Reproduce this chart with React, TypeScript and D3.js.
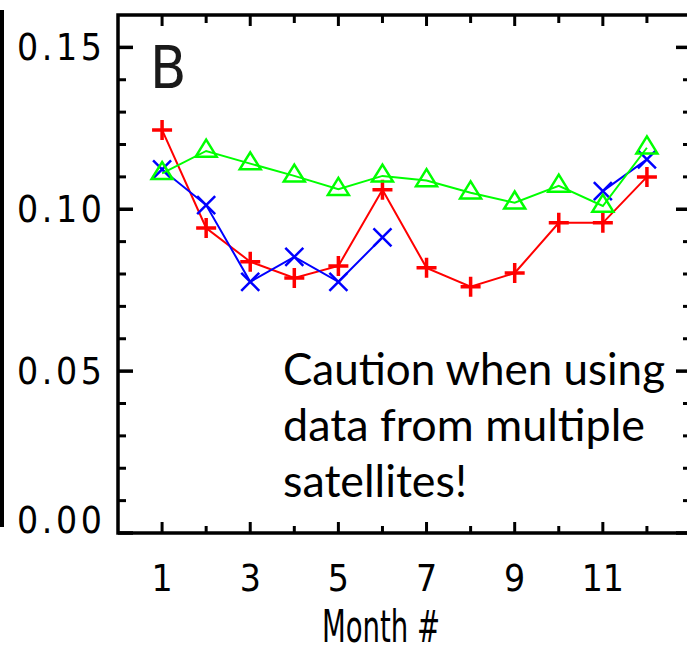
import { useEffect, useRef } from "react"
import * as d3 from "d3"

// monthly values
const months = [1, 2, 3, 4, 5, 6, 7, 8, 9, 10, 11, 12]
const redValues = [0.1245, 0.0942, 0.0838, 0.0788, 0.0825, 0.106, 0.0819, 0.0761, 0.0803, 0.0958, 0.0958, 0.110]
const greenValues = [0.1111, 0.118, 0.1141, 0.1103, 0.1062, 0.1103, 0.1089, 0.1051, 0.102, 0.1072, 0.101, 0.119]
// blue has no data for months 7-10
const blueValues = [0.1123, 0.1013, 0.0776, 0.0853, 0.0776, 0.0913, null, null, null, null, 0.1056, 0.1154]

const yMajorTicks = [0, 0.05, 0.1, 0.15]
const yTickLabels = ["0.00", "0.05", "0.10", "0.15"]
const yMinorTicks = [0.01, 0.02, 0.03, 0.04, 0.06, 0.07, 0.08, 0.09, 0.11, 0.12, 0.13, 0.14]
const xMajorTicks = [1, 3, 5, 7, 9, 11]
const xMinorTicks = [2, 4, 6, 8, 10, 12]

const noteLines = ["Caution when using", "data from multiple", "satellites!"]
const noteWidths = [382, 362, 184]

const hershey = "'DejaVu Sans Condensed', 'DejaVu Sans', sans-serif"

export default function App() {
  const svgRef = useRef<SVGSVGElement>(null)

  useEffect(() => {
    if (!svgRef.current) return
    const svg = d3.select(svgRef.current)
    svg.selectAll("*").remove()

    const left = 118
    const right = 691
    const top = 15
    const bottom = 533

    const x = d3.scaleLinear().domain([0, 13]).range([left, right])
    const y = d3.scaleLinear().domain([0, 0.16]).range([bottom, top])

    // edge of the neighbouring panel
    svg.append("line").attr("x1", 2).attr("x2", 2).attr("y1", 10).attr("y2", 527)
      .attr("stroke", "black").attr("stroke-width", 4)

    // frame
    svg.append("rect")
      .attr("x", left).attr("y", top)
      .attr("width", right - left).attr("height", bottom - top)
      .attr("fill", "none").attr("stroke", "black").attr("stroke-width", 3.5)

    const ticks = svg.append("g").attr("stroke", "black")

    // y ticks, inward on both sides
    yMajorTicks.forEach((v) => {
      ticks.append("line").attr("x1", left).attr("x2", left + 15).attr("y1", y(v)).attr("y2", y(v)).attr("stroke-width", 3.5)
      ticks.append("line").attr("x1", right).attr("x2", right - 15).attr("y1", y(v)).attr("y2", y(v)).attr("stroke-width", 3.5)
    })
    yMinorTicks.forEach((v) => {
      ticks.append("line").attr("x1", left).attr("x2", left + 8).attr("y1", y(v)).attr("y2", y(v)).attr("stroke-width", 3)
      ticks.append("line").attr("x1", right).attr("x2", right - 8).attr("y1", y(v)).attr("y2", y(v)).attr("stroke-width", 3)
    })

    // x ticks, inward on top and bottom
    xMajorTicks.forEach((m) => {
      ticks.append("line").attr("x1", x(m)).attr("x2", x(m)).attr("y1", bottom).attr("y2", bottom - 11).attr("stroke-width", 3)
      ticks.append("line").attr("x1", x(m)).attr("x2", x(m)).attr("y1", top).attr("y2", top + 11).attr("stroke-width", 3)
    })
    xMinorTicks.forEach((m) => {
      ticks.append("line").attr("x1", x(m)).attr("x2", x(m)).attr("y1", bottom).attr("y2", bottom - 7).attr("stroke-width", 3)
      ticks.append("line").attr("x1", x(m)).attr("x2", x(m)).attr("y1", top).attr("y2", top + 8).attr("stroke-width", 3)
    })

    // y labels
    svg.append("g").selectAll("text").data(yMajorTicks).enter().append("text")
      .attr("x", 102)
      .attr("y", (v) => Math.min(y(v), bottom - 13) + 13)
      .attr("text-anchor", "end")
      .attr("font-family", hershey)
      .attr("font-size", 37)
      .attr("textLength", 85)
      .attr("lengthAdjust", "spacing")
      .text((_, i) => yTickLabels[i])

    // x labels
    svg.append("g").selectAll("text").data(xMajorTicks).enter().append("text")
      .attr("x", (m) => x(m))
      .attr("y", 591)
      .attr("text-anchor", "middle")
      .attr("font-family", hershey)
      .attr("font-size", 37)
      .text((m) => String(m))

    svg.append("text")
      .attr("x", 322).attr("y", 642)
      .attr("font-family", hershey)
      .attr("font-size", 44)
      .attr("textLength", 118)
      .attr("lengthAdjust", "spacingAndGlyphs")
      .text("Month #")

    // panel letter
    svg.append("text")
      .attr("x", 150).attr("y", 88)
      .attr("font-family", hershey)
      .attr("font-weight", 300)
      .attr("font-size", 59)
      .attr("fill", "#1a1a1a")
      .text("B")

    const line = d3.line<number | null>()
      .defined((d) => d !== null)
      .x((_, i) => x(months[i]))
      .y((d) => y(d as number))

    const drawSeries = (values: (number | null)[], color: string, marker: string, width: number) => {
      const g = svg.append("g")
      g.append("path").attr("d", line(values) || "").attr("fill", "none").attr("stroke", color).attr("stroke-width", 2)
      g.selectAll("path.mk").data(values.map((v, i) => ({ v, m: months[i] })).filter((d) => d.v !== null))
        .enter().append("path")
        .attr("class", "mk")
        .attr("transform", (d) => `translate(${x(d.m)},${y(d.v as number)})`)
        .attr("d", marker)
        .attr("fill", "none")
        .attr("stroke", color)
        .attr("stroke-width", width)
    }

    drawSeries(redValues, "#ff0000", "M-10,0H10M0,-10V10", 3.5)
    drawSeries(blueValues, "#0000ff", "M-9,-9L9,9M-9,9L9,-9", 2.5)
    drawSeries(greenValues, "#00ff00", "M0,-11.3L10.5,5.7L-10.5,5.7Z", 2.5)

    // note
    svg.append("g").selectAll("text").data(noteLines).enter().append("text")
      .attr("x", 283)
      .attr("y", (_, i) => 385 + i * 56)
      .attr("font-family", "Lato, 'Open Sans', sans-serif")
      .attr("font-size", 44)
      .attr("textLength", (_, i) => noteWidths[i])
      .attr("lengthAdjust", "spacingAndGlyphs")
      .text((d) => d)
  }, [])

  return (
    <div style={{ position: "absolute", left: 0, top: 0, background: "white" }}>
      <svg ref={svgRef} width={687} height={657} style={{ display: "block" }} />
    </div>
  )
}
